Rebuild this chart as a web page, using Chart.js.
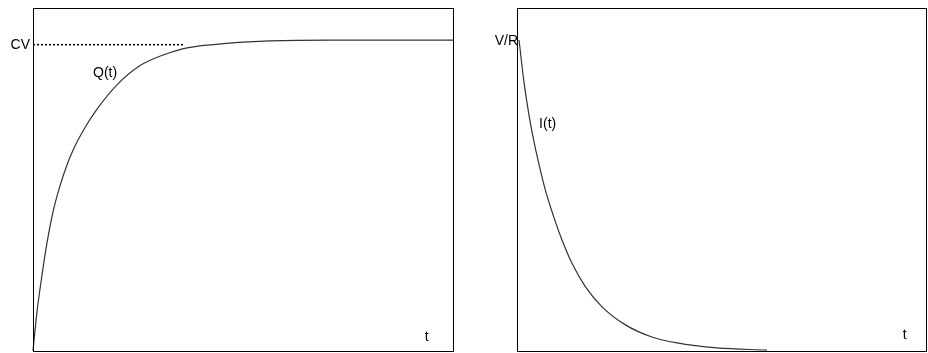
<!DOCTYPE html>
<html>
<head>
<meta charset="utf-8">
<script src="https://cdn.jsdelivr.net/npm/chart.js@4/dist/chart.umd.min.js"></script>
<style>
  html, body { margin: 0; padding: 0; background: #fff; }
  body { width: 928px; height: 353px; position: relative; overflow: hidden; }
  .panel { position: absolute; top: 0; width: 464px; height: 353px; }
  #left { left: 0; }
  #right { left: 464px; }
</style>
</head>
<body>
<div class="panel" id="left"><canvas id="chargeChart"></canvas></div>
<div class="panel" id="right"><canvas id="currentChart"></canvas></div>
<script>
// Carga do capacitor Q(t) (t em unidades de tau, Q em unidades de CV)
const chargeT = [0, 0.09, 0.21, 0.33, 0.48, 0.64, 0.80, 0.96, 1.20, 1.52, 2.0, 2.55, 3.1, 3.67, 4.69, 5.64, 7.0, 10.0];
const chargeQ = [0, 0.12, 0.24, 0.345, 0.45, 0.53, 0.595, 0.648, 0.71, 0.777, 0.856, 0.918, 0.952, 0.975, 0.99, 0.997, 1.0, 1.0];

// Linha pontilhada CV
const cvT = [0, 3.6];
const cvLevel = [0.985, 0.985];

// Corrente I(t) - valores em unidades de V/R
const currentT = [0.05, 0.164, 0.286, 0.408, 0.531, 0.692, 0.897, 1.10, 1.345, 1.67, 2.08, 2.65, 3.3, 3.91, 4.89, 6.11];
const currentI = [1.0, 0.871, 0.764, 0.678, 0.604, 0.518, 0.432, 0.357, 0.282, 0.207, 0.142, 0.084, 0.045, 0.026, 0.01, 0.003];

const toPoints = (xs, ys) => xs.map((x, i) => ({ x: x, y: ys[i] }));

// moldura + textos
const framePlugin = {
    id: 'frame',
    afterDatasetsDraw(chart, args, opts) {
        const ctx = chart.ctx;
        const a = chart.chartArea;
        ctx.save();
        ctx.strokeStyle = '#000';
        ctx.lineWidth = 1;
        ctx.strokeRect(Math.round(a.left) + 0.5, Math.round(a.top) + 0.5,
            Math.round(a.right - a.left), Math.round(a.bottom - a.top));
        ctx.font = '14px "Liberation Sans", Arial, sans-serif';
        ctx.fillStyle = '#000';
        ctx.textBaseline = 'middle';
        (opts.labels || []).forEach(l => {
            let px = l.atAxis ? a.left + l.dx : chart.scales.x.getPixelForValue(l.x);
            const py = chart.scales.y.getPixelForValue(l.y);
            ctx.textAlign = l.align || 'left';
            ctx.fillText(l.text, px, py);
        });
        ctx.restore();
    }
};

function baseOptions(pad, labels) {
    return {
        responsive: false,
        animation: false,
        layout: { padding: pad },
        plugins: {
            legend: { display: false },
            tooltip: { enabled: false },
            frame: { labels: labels }
        },
        elements: { point: { radius: 0 } },
        scales: {
            x: { type: 'linear', min: 0, max: 10, display: false },
            y: { type: 'linear', min: 0, max: 1.103, display: false }
        }
    };
}

function sizeCanvas(id) {
    const c = document.getElementById(id);
    c.width = 464; c.height = 353;
    c.style.width = '464px'; c.style.height = '353px';
    return c.getContext('2d');
}

// Gráfico da esquerda - Q(t)
const chargeChart = new Chart(sizeCanvas('chargeChart'), {
    type: 'line',
    data: {
        datasets: [{
            data: toPoints(chargeT, chargeQ),
            borderColor: '#333',
            borderWidth: 1.2,
            cubicInterpolationMode: 'monotone',
            clip: 2
        }, {
            data: toPoints(cvT, cvLevel),
            borderColor: '#000',
            borderWidth: 1.6,
            borderDash: [2, 2],
            clip: 2
        }]
    },
    options: baseOptions({ left: 33, top: 8, right: 11, bottom: 2 }, [
        { text: 'CV', atAxis: true, dx: -3, y: 0.985, align: 'right' },
        { text: 'Q(t)', x: 1.43, y: 0.895 },
        { text: 't', x: 9.33, y: 0.045 }
    ]),
    plugins: [framePlugin]
});

// Gráfico da direita - I(t)
const currentChart = new Chart(sizeCanvas('currentChart'), {
    type: 'line',
    data: {
        datasets: [{
            data: toPoints(currentT, currentI),
            borderColor: '#333',
            borderWidth: 1.2,
            cubicInterpolationMode: 'monotone',
            clip: 2
        }]
    },
    options: baseOptions({ left: 53, top: 8, right: 2, bottom: 2 }, [
        { text: 'V/R', atAxis: true, dx: 1, y: 0.995, align: 'right' },
        { text: 'I(t)', x: 0.54, y: 0.73 },
        { text: 't', x: 9.43, y: 0.05 }
    ]),
    plugins: [framePlugin]
});
</script>
</body>
</html>
